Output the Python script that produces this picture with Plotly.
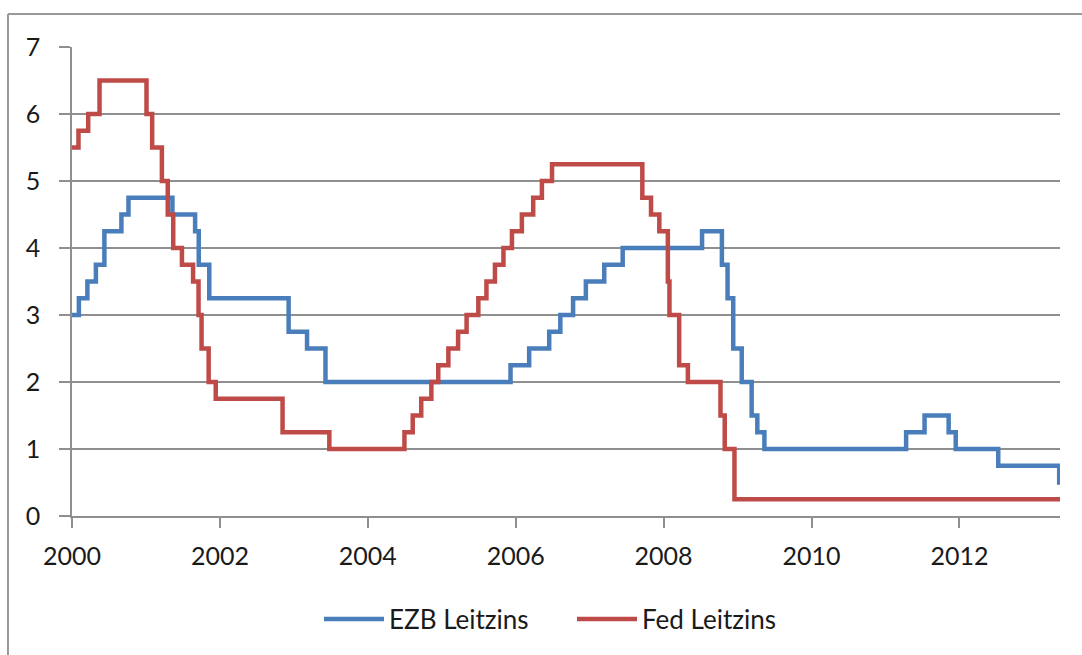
import plotly.graph_objects as go

# EZB (ECB main refinancing rate) change dates and values
ezb_dates = ["2000-01-01", "2000-02-04", "2000-03-17", "2000-04-28", "2000-06-09",
             "2000-09-01", "2000-10-06", "2001-05-11", "2001-08-31", "2001-09-18",
             "2001-11-09", "2002-12-06", "2003-03-07", "2003-06-06", "2005-12-06",
             "2006-03-08", "2006-06-15", "2006-08-09", "2006-10-11", "2006-12-13",
             "2007-03-14", "2007-06-13", "2008-07-09", "2008-10-15", "2008-11-12",
             "2008-12-10", "2009-01-21", "2009-03-11", "2009-04-08", "2009-05-13",
             "2011-04-13", "2011-07-13", "2011-11-09", "2011-12-14", "2012-07-11",
             "2013-05-08", "2013-05-12"]
ezb_values = [3.00, 3.25, 3.50, 3.75, 4.25,
              4.50, 4.75, 4.50, 4.25, 3.75,
              3.25, 2.75, 2.50, 2.00, 2.25,
              2.50, 2.75, 3.00, 3.25, 3.50,
              3.75, 4.00, 4.25, 3.75, 3.25,
              2.50, 2.00, 1.50, 1.25, 1.00,
              1.25, 1.50, 1.25, 1.00, 0.75,
              0.50, 0.50]

# Fed funds target rate change dates and values
fed_dates = ["2000-01-01", "2000-02-02", "2000-03-21", "2000-05-16", "2001-01-03",
             "2001-01-31", "2001-03-20", "2001-04-18", "2001-05-15", "2001-06-27",
             "2001-08-21", "2001-09-17", "2001-10-02", "2001-11-06", "2001-12-11",
             "2002-11-06", "2003-06-25", "2004-06-30", "2004-08-10", "2004-09-21",
             "2004-11-10", "2004-12-14", "2005-02-02", "2005-03-22", "2005-05-03",
             "2005-06-30", "2005-08-09", "2005-09-20", "2005-11-01", "2005-12-13",
             "2006-01-31", "2006-03-28", "2006-05-10", "2006-06-29", "2007-09-18",
             "2007-10-31", "2007-12-11", "2008-01-22", "2008-01-30", "2008-03-18",
             "2008-04-30", "2008-10-08", "2008-10-29", "2008-12-16", "2013-05-12"]
fed_values = [5.50, 5.75, 6.00, 6.50, 6.00,
              5.50, 5.00, 4.50, 4.00, 3.75,
              3.50, 3.00, 2.50, 2.00, 1.75,
              1.25, 1.00, 1.25, 1.50, 1.75,
              2.00, 2.25, 2.50, 2.75, 3.00,
              3.25, 3.50, 3.75, 4.00, 4.25,
              4.50, 4.75, 5.00, 5.25, 4.75,
              4.50, 4.25, 3.50, 3.00, 2.25,
              2.00, 1.50, 1.00, 0.25, 0.25]

series_names = ["EZB Leitzins", "Fed Leitzins"]
x_tick_vals = ["2000-01-01", "2002-01-01", "2004-01-01", "2006-01-01",
               "2008-01-01", "2010-01-01", "2012-01-01"]
x_tick_text = ["2000", "2002", "2004", "2006", "2008", "2010", "2012"]
y_ticks = [0, 1, 2, 3, 4, 5, 6, 7]

BLUE = "#4A7EBB"
RED = "#BE4B48"
GRID = "#8f8f8f"
FONT = "Lato"

fig = go.Figure()
fig.add_trace(go.Scatter(x=ezb_dates, y=ezb_values, mode="lines", name=series_names[0],
                         line=dict(color=BLUE, width=4.5, shape="hv")))
fig.add_trace(go.Scatter(x=fed_dates, y=fed_values, mode="lines", name=series_names[1],
                         line=dict(color=RED, width=4.5, shape="hv")))

fig.update_layout(
    width=1082, height=655,
    margin=dict(l=72, r=22, t=47, b=139),
    paper_bgcolor="white", plot_bgcolor="white",
    font=dict(family=FONT, size=25, color="#1a1a1a"),
    showlegend=True,
    legend=dict(orientation="h", x=0.25, xanchor="left", y=-0.22, yanchor="middle",
                font=dict(size=26), itemwidth=60, traceorder="normal",
                entrywidth=178, entrywidthmode="pixels"),
    xaxis=dict(type="date", range=["2000-01-01", "2013-05-12"],
               tickvals=x_tick_vals, ticktext=x_tick_text,
               showgrid=False, zeroline=False,
               showline=True, linecolor=GRID, linewidth=1.5,
               ticks="outside", ticklen=10, tickcolor=GRID, tickwidth=1.5,
               ticklabelstandoff=7),
    yaxis=dict(range=[0, 7], tickvals=y_ticks,
               showgrid=True, gridcolor=GRID, gridwidth=1.5,
               zeroline=False,
               showline=True, linecolor=GRID, linewidth=1.5,
               ticks="outside", ticklen=11, tickcolor=GRID, tickwidth=1.5,
               ticklabelstandoff=14),
)

# outer chart frame (top and left edges visible)
fig.add_shape(type="line", xref="paper", yref="paper",
              x0=-0.0648, x1=1.1, y0=1.0704, y1=1.0704,
              line=dict(color="#999999", width=2))
fig.add_shape(type="line", xref="paper", yref="paper",
              x0=-0.0648, x1=-0.0648, y0=1.0704, y1=-0.4,
              line=dict(color="#999999", width=2))

fig.write_html("out.html")
